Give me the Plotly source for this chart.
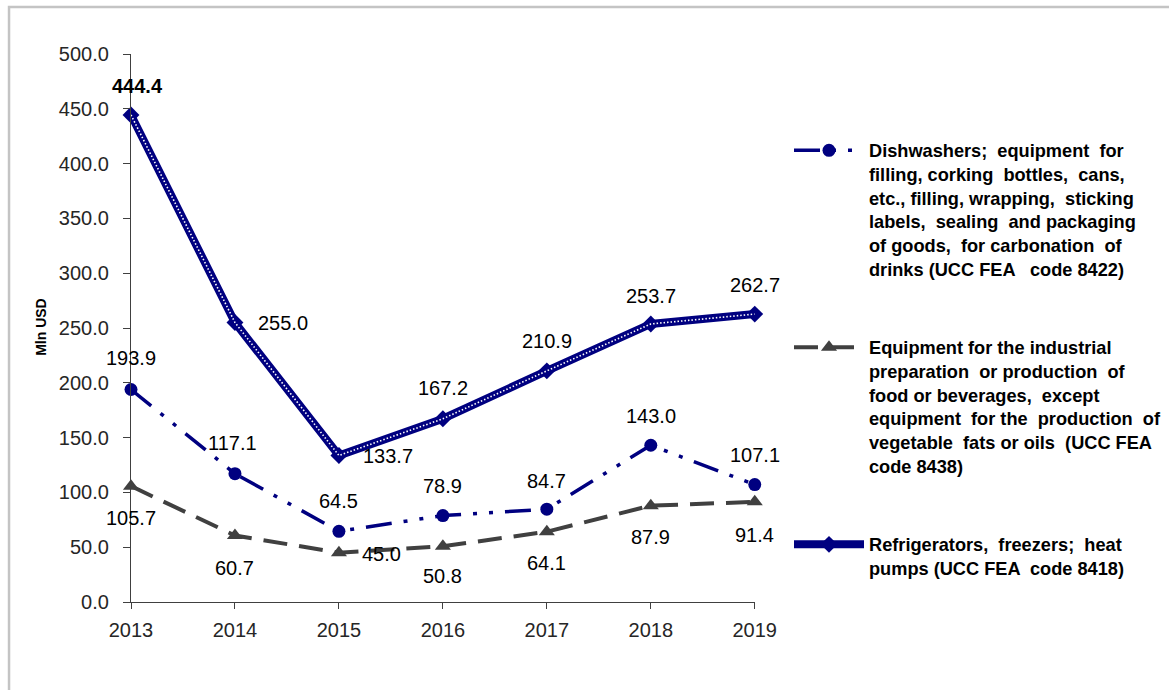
import plotly.graph_objects as go

years = [2013, 2014, 2015, 2016, 2017, 2018, 2019]
dishwashers = [193.9, 117.1, 64.5, 78.9, 84.7, 143.0, 107.1]
food_equipment = [105.7, 60.7, 45.0, 50.8, 64.1, 87.9, 91.4]
refrigerators = [444.4, 255.0, 133.7, 167.2, 210.9, 253.7, 262.7]

name_dish = ("Dishwashers;  equipment  for<br>filling, corking  bottles,  cans,<br>"
             "etc., filling, wrapping,  sticking<br>labels,  sealing  and packaging<br>"
             "of goods,  for carbonation  of<br>drinks (UCC FEA   code 8422)")
name_food = ("Equipment for the industrial<br>preparation  or production  of<br>"
             "food or beverages,  except<br>equipment  for the  production  of<br>"
             "vegetable  fats or oils  (UCC FEA<br>code 8438)")
name_fridge = "Refrigerators,  freezers;  heat<br>pumps (UCC FEA  code 8418)"

# label offsets (px) per series point: (xshift, yshift)
dish_off = [(0, 31), (-2, 31), (0, 30), (0, 30), (0, 28), (0, 29), (0, 30)]
food_off = [(0, -32), (0, -33), (43, -1), (0, -30), (0, -31), (0, -31), (0, -33)]
fridge_off = [(6, 29), (48, 0), (49, -1), (0, 31), (0, 30), (0, 28), (0, 29)]

NAVY = "#000080"
GRAY = "#404040"
FONT = "Liberation Sans, Arial, sans-serif"

L, R, T, B = 131, 409, 54, 88
PW, PH = 1169 - L - R, 690 - T - B

fig = go.Figure()

fig.add_trace(go.Scatter(
    x=years, y=dishwashers, name=name_dish, mode="lines+markers",
    line=dict(color=NAVY, width=3.5, dash="26px,12px,4px,12px,4px,12px"),
    marker=dict(symbol="circle", size=13, color=NAVY),
    legend="legend", cliponaxis=False))

fig.add_trace(go.Scatter(
    x=years, y=food_equipment, name=name_food, mode="lines+markers",
    line=dict(color=GRAY, width=4, dash="24px,12px"),
    marker=dict(symbol="triangle-up", size=14, color=GRAY),
    legend="legend2", cliponaxis=False))

fig.add_trace(go.Scatter(
    x=years, y=refrigerators, name=name_fridge, mode="lines+markers",
    line=dict(color=NAVY, width=8),
    marker=dict(symbol="diamond", size=13, color=NAVY),
    legend="legend3", cliponaxis=False))

fig.add_trace(go.Scatter(
    x=years, y=refrigerators, mode="lines", showlegend=False, hoverinfo="skip",
    line=dict(color="white", width=1.6, dash="1.5px,2px"),
    cliponaxis=False))

annotations = []
for series, offs, bold_first in ((refrigerators, fridge_off, True),
                                 (dishwashers, dish_off, False),
                                 (food_equipment, food_off, False)):
    for i, (x, v) in enumerate(zip(years, series)):
        txt = f"{v:.1f}"
        if bold_first and i == 0:
            txt = f"<b>{txt}</b>"
        annotations.append(dict(
            x=x, y=v, xref="x", yref="y", text=txt, showarrow=False,
            xshift=offs[i][0], yshift=offs[i][1],
            font=dict(family=FONT, size=20, color="#000000")))

annotations.append(dict(
    x=(30 - L) / PW, y=(690 - 327 - B) / PH, xref="paper", yref="paper",
    text="<b>Mln USD</b>", showarrow=False, textangle=-90,
    font=dict(family=FONT, size=14, color="#000000")))


def legend_at(top_px):
    return dict(
        x=789 / 1169, xref="container", y=1 - top_px / 690, yref="container",
        xanchor="left", yanchor="top", maxheight=650,
        font=dict(family=FONT, size=18.2, color="#000000", weight="bold"),
        valign="top", itemwidth=70, bgcolor="rgba(0,0,0,0)")


fig.update_layout(
    width=1169, height=690,
    margin=dict(l=L, r=R, t=T, b=B),
    paper_bgcolor="white", plot_bgcolor="white",
    font=dict(family=FONT, size=20, color="#262626"),
    showlegend=True,
    legend=legend_at(132),
    legend2=legend_at(329),
    legend3=legend_at(526),
    annotations=annotations,
    shapes=[dict(type="rect", xref="paper", yref="paper",
                 x0=(8 - L) / PW, x1=(1200 - L) / PW,
                 y0=-(B + 20) / PH, y1=1 + (T - 7) / PH,
                 line=dict(color="#c4c4c4", width=2.5), layer="below")],
)

fig.update_xaxes(
    range=[2013, 2019], tickvals=years, ticktext=[str(y) for y in years],
    showline=True, linecolor="#404040", linewidth=1.3,
    ticks="outside", ticklen=6, tickcolor="#404040", ticklabelstandoff=4,
    showgrid=False, zeroline=False,
    tickfont=dict(family=FONT, size=20, color="#262626"))

fig.update_yaxes(
    range=[0, 500], dtick=50, tickformat=".1f",
    showline=True, linecolor="#404040", linewidth=1.3,
    ticks="outside", ticklen=7, tickcolor="#404040", ticklabelstandoff=10,
    showgrid=False, zeroline=False,
    tickfont=dict(family=FONT, size=20, color="#262626"))

fig.write_html("out.html")
